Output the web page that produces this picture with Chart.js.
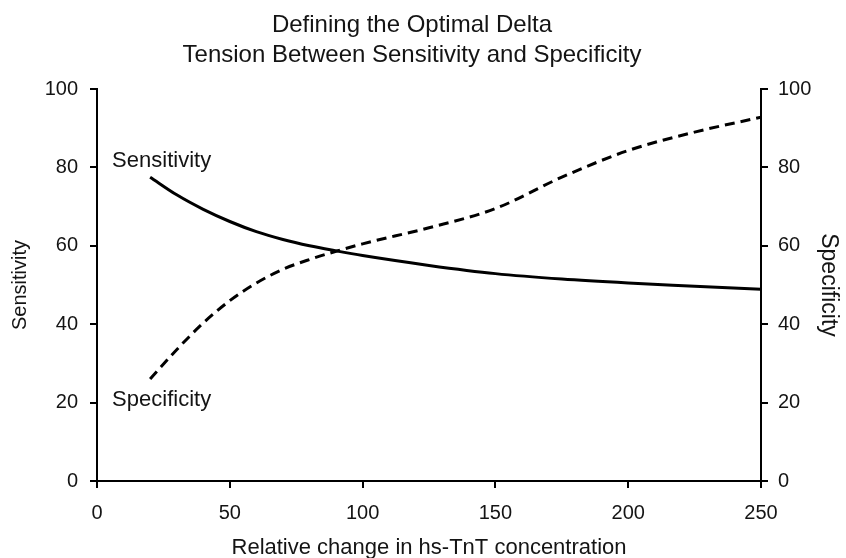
<!DOCTYPE html>
<html>
<head>
<meta charset="utf-8">
<script src="https://cdn.jsdelivr.net/npm/chart.js@4"></script>
<style>
  html, body { margin: 0; padding: 0; background: #fff; }
  #wrap { width: 846px; height: 558px; }
</style>
</head>
<body>
<div id="wrap"><canvas id="deltaChart" width="846" height="558"></canvas></div>
<script>
// DATA
const titleLines = ["Defining the Optimal Delta", "Tension Between Sensitivity and Specificity"];
const curveNames = ["Sensitivity", "Specificity"];
const xTitle = "Relative change in hs-TnT concentration";

const deltaX = [20, 30, 40, 50, 60, 70, 80, 90, 100, 125, 150, 175, 200, 225, 250];
const sensitivity = [77.5, 73, 69.3, 66.2, 63.6, 61.6, 60, 58.7, 57.5, 55, 52.9, 51.5, 50.5, 49.7, 48.9];
const specificity = [26, 33.5, 40.3, 46, 50.5, 54, 56.5, 58.6, 60.5, 64.6, 69.5, 77.5, 84.3, 89, 92.8];

const xTicks = [0, 50, 100, 150, 200, 250];
const yTicks = [0, 20, 40, 60, 80, 100];

const FONT = '"Liberation Sans", Arial, sans-serif';
const INK = "#141414";

function toPoints(xs, ys) {
  return xs.map((x, i) => ({ x: x, y: ys[i] }));
}

// title + curve labels
const textPlugin = {
  id: "texts",
  afterDraw(chart) {
    const ctx = chart.ctx;
    const x = chart.scales.x;
    const y = chart.scales.y;
    const y2 = chart.scales.y2;
    ctx.save();
    ctx.fillStyle = INK;
    ctx.textBaseline = "alphabetic";
    ctx.font = "24px " + FONT;
    ctx.textAlign = "center";
    titleLines.forEach((t, i) => ctx.fillText(t, 412, 32 + i * 30));

    ctx.font = "22px " + FONT;
    ctx.textAlign = "left";
    ctx.fillText(curveNames[0], x.getPixelForValue(deltaX[0]) - 38, y.getPixelForValue(sensitivity[0]) - 10);
    ctx.fillText(curveNames[1], x.getPixelForValue(deltaX[0]) - 38, y2.getPixelForValue(specificity[0]) + 27);
    ctx.restore();
  },
};

const axisGrid = {
  drawOnChartArea: false,
  drawTicks: true,
  tickLength: 7,
  color: "#000",
  lineWidth: 2,
};
const axisBorder = { display: true, color: "#000", width: 2 };

const deltaChart = document.getElementById("deltaChart");

new Chart(deltaChart, {
  type: "line",
  data: {
    datasets: [
      {
        label: curveNames[0],
        data: toPoints(deltaX, sensitivity),
        yAxisID: "y",
        borderColor: "#000",
        borderWidth: 3,
        pointRadius: 0,
        cubicInterpolationMode: "monotone",
      },
      {
        label: curveNames[1],
        data: toPoints(deltaX, specificity),
        yAxisID: "y2",
        borderColor: "#000",
        borderWidth: 3,
        borderDash: [10, 6],
        pointRadius: 0,
        cubicInterpolationMode: "monotone",
      },
    ],
  },
  options: {
    responsive: false,
    animation: false,
    devicePixelRatio: 1,
    layout: { padding: { top: 89, left: 0, right: 0, bottom: 0 } },
    plugins: {
      legend: { display: false },
      tooltip: { enabled: false },
      title: { display: false },
    },
    scales: {
      x: {
        type: "linear",
        min: 0,
        max: 250,
        afterFit: (s) => { s.height = 77; },
        afterBuildTicks: (s) => { s.ticks = xTicks.map((v) => ({ value: v })); },
        ticks: { color: INK, font: { family: FONT, size: 20 }, padding: 13 },
        grid: axisGrid,
        border: axisBorder,
        title: { display: true, text: xTitle, color: INK, font: { family: FONT, size: 22 }, padding: { top: 0, bottom: -3 } },
      },
      y: {
        position: "left",
        min: 0,
        max: 100,
        afterFit: (s) => { s.width = 97; },
        afterBuildTicks: (s) => { s.ticks = yTicks.map((v) => ({ value: v })); },
        ticks: { color: INK, font: { family: FONT, size: 20 }, padding: 12 },
        grid: axisGrid,
        border: axisBorder,
        title: { display: true, text: curveNames[0], color: INK, font: { family: FONT, size: 20 }, padding: { top: 8, bottom: 0 } },
      },
      y2: {
        position: "right",
        min: 0,
        max: 100,
        afterFit: (s) => { s.width = 85; },
        afterBuildTicks: (s) => { s.ticks = yTicks.map((v) => ({ value: v })); },
        ticks: { color: INK, font: { family: FONT, size: 20 }, padding: 10 },
        grid: axisGrid,
        border: axisBorder,
        title: { display: true, text: curveNames[1], color: INK, font: { family: FONT, size: 23 }, padding: { top: 4, bottom: 0 } },
      },
    },
  },
  plugins: [textPlugin],
});
</script>
</body>
</html>
